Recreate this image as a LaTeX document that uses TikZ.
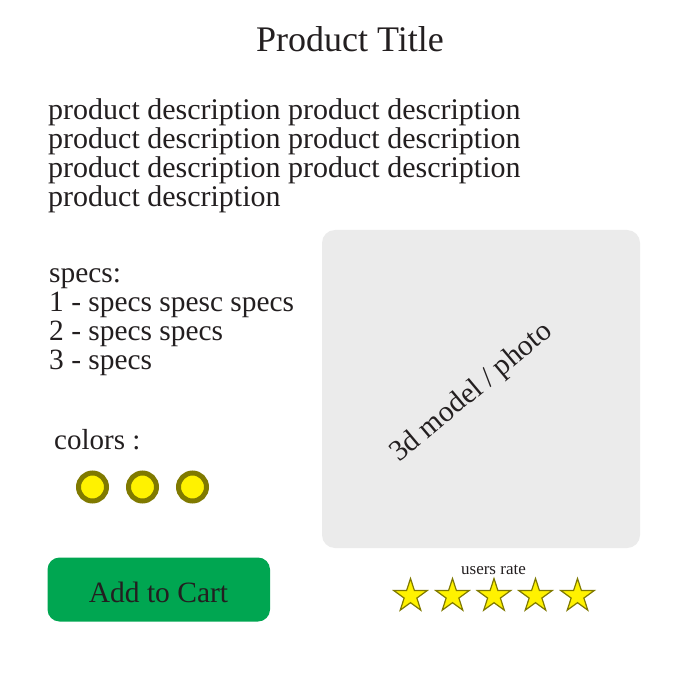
\documentclass[tikz,border=0pt]{standalone}
\usepackage{fontspec}
\setmainfont{Liberation Serif}
\usetikzlibrary{shapes.geometric}
\definecolor{ink}{HTML}{231F20}
\definecolor{panel}{HTML}{EBEBEB}
\definecolor{btn}{HTML}{00A651}
\definecolor{dot}{HTML}{FFF200}
\definecolor{rim}{HTML}{807A00}
\tikzset{
  txt/.style={inner sep=0, text=ink, anchor=base west, text height=20pt, text depth=6pt, font=\fontsize{30}{29}\selectfont},
  colordot/.style={circle, draw=rim, fill=dot, line width=5pt, minimum size=28pt, inner sep=0},
  ratestar/.style={star, star points=5, star point ratio=2.618, draw=rim, fill=dot, line width=1.2pt, minimum size=35pt, inner sep=0}
}
\begin{document}
\begin{tikzpicture}[x=1pt,y=-1pt]
\useasboundingbox[fill=white] (0,0) rectangle (700,700);
\node[inner sep=0, text=ink, anchor=base, font=\fontsize{36}{36}\selectfont] (title) at (350,52) {Product Title};
\node[txt] (d1) at (48,120) {product description product description};
\node[txt] (d2) at (48,149) {product description product description};
\node[txt] (d3) at (48,178) {product description product description};
\node[txt] (d4) at (48,207) {product description};
\node[txt, font=\fontsize{29.4}{29}\selectfont] (s0) at (49,282) {specs:};
\node[txt, font=\fontsize{29.4}{29}\selectfont] (s1) at (49,311) {1 - specs spesc specs};
\node[txt, font=\fontsize{29.4}{29}\selectfont] (s2) at (49,340) {2 - specs specs};
\node[txt, font=\fontsize{29.4}{29}\selectfont] (s3) at (49,369) {3 - specs};
\node[txt, font=\fontsize{29}{29}\selectfont] (colors) at (54,449) {colors :};
\node[colordot] (c1) at (92.5,487) {};
\node[colordot] (c2) at (142.5,487) {};
\node[colordot] (c3) at (192.5,487) {};
\fill[panel, rounded corners=13pt] (322,230) rectangle (640,548);
\node[inner sep=0, text=ink, rotate=40, text height=14pt, text depth=0pt, font=\fontsize{29.5}{29.5}\selectfont] (model) at (472,393) {3d model / photo};
\fill[btn, rounded corners=12pt] (47.5,557.5) rectangle (270,621.5);
\node[inner sep=0, text=ink, anchor=base, font=\fontsize{29.5}{29.5}\selectfont] (cart) at (158.5,602) {Add to Cart};
\node[inner sep=0, text=ink, anchor=base, font=\fontsize{17}{17}\selectfont] (rate) at (493.5,574) {users rate};
\foreach \i/\x in {1/410.5,2/452.5,3/494,4/535.5,5/577.5}
  \node[ratestar] (star\i) at (\x,596) {};
\end{tikzpicture}
\end{document}
